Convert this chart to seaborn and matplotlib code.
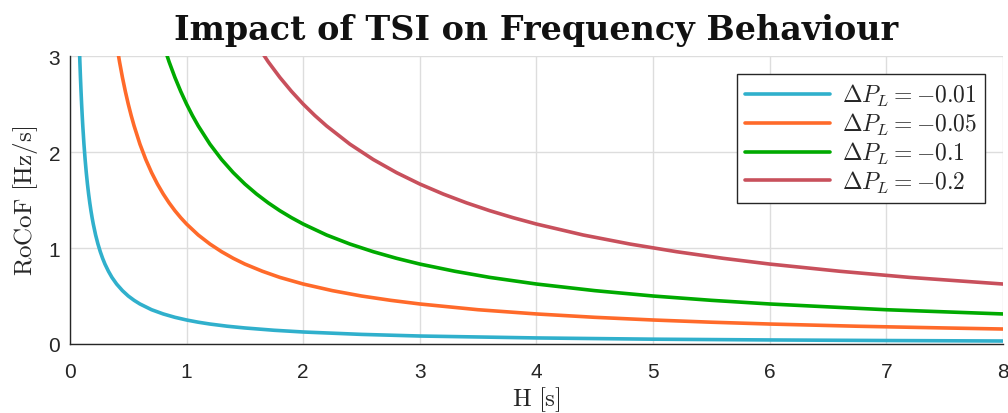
import numpy as np
import pandas as pd
import matplotlib
matplotlib.use("Agg")
import matplotlib.pyplot as plt
import seaborn as sns

# Data
labels = [r"$\Delta P_L = -0.01$", r"$\Delta P_L = -0.05$",
          r"$\Delta P_L = -0.1$", r"$\Delta P_L = -0.2$"]

h_blue = [0.08, 0.085, 0.09, 0.095, 0.1, 0.105, 0.11, 0.12, 0.13, 0.14, 0.15, 0.16, 0.17, 0.18, 0.19,
          0.2, 0.22, 0.24, 0.26, 0.28, 0.3, 0.33, 0.36, 0.4, 0.45, 0.5, 0.55, 0.6, 0.7, 0.8, 0.9,
          1.0, 1.1, 1.2, 1.35, 1.5, 1.75, 2.0, 2.5, 3.0, 4.0, 5.0, 6.0, 7.0, 8.0]
r_blue = [3.125, 2.941, 2.778, 2.632, 2.5, 2.381, 2.273, 2.083, 1.923, 1.786, 1.667, 1.563, 1.471, 1.389, 1.316,
          1.25, 1.136, 1.042, 0.962, 0.893, 0.833, 0.758, 0.694, 0.625, 0.556, 0.5, 0.455, 0.417, 0.357, 0.313, 0.278,
          0.25, 0.227, 0.208, 0.185, 0.167, 0.143, 0.125, 0.1, 0.083, 0.063, 0.05, 0.042, 0.036, 0.031]

h_orange = [0.4, 0.425, 0.45, 0.475, 0.5, 0.525, 0.55, 0.6, 0.65, 0.7, 0.75, 0.8, 0.85, 0.9, 0.95,
            1.0, 1.1, 1.2, 1.3, 1.4, 1.5, 1.65, 1.8, 2.0, 2.25, 2.5, 2.75, 3.0, 3.5, 4.0, 4.5,
            5.0, 5.5, 6.0, 6.75, 7.5, 8.0]
r_orange = [3.125, 2.941, 2.778, 2.632, 2.5, 2.381, 2.273, 2.083, 1.923, 1.786, 1.667, 1.563, 1.471, 1.389, 1.316,
            1.25, 1.136, 1.042, 0.962, 0.893, 0.833, 0.758, 0.694, 0.625, 0.556, 0.5, 0.455, 0.417, 0.357, 0.313, 0.278,
            0.25, 0.227, 0.208, 0.185, 0.167, 0.156]

h_green = [0.8, 0.85, 0.9, 0.95, 1.0, 1.05, 1.1, 1.2, 1.3, 1.4, 1.5, 1.6, 1.7, 1.8, 1.9,
           2.0, 2.2, 2.4, 2.6, 2.8, 3.0, 3.3, 3.6, 4.0, 4.5, 5.0, 5.5, 6.0, 7.0, 8.0]
r_green = [3.125, 2.941, 2.778, 2.632, 2.5, 2.381, 2.273, 2.083, 1.923, 1.786, 1.667, 1.563, 1.471, 1.389, 1.316,
           1.25, 1.136, 1.042, 0.962, 0.893, 0.833, 0.758, 0.694, 0.625, 0.556, 0.5, 0.455, 0.417, 0.357, 0.313]

h_red = [1.6, 1.7, 1.8, 1.9, 2.0, 2.1, 2.2, 2.4, 2.6, 2.8, 3.0, 3.2, 3.4, 3.6, 3.8,
         4.0, 4.4, 4.8, 5.2, 5.6, 6.0, 6.6, 7.2, 8.0]
r_red = [3.125, 2.941, 2.778, 2.632, 2.5, 2.381, 2.273, 2.083, 1.923, 1.786, 1.667, 1.563, 1.471, 1.389, 1.316,
         1.25, 1.136, 1.042, 0.962, 0.893, 0.833, 0.758, 0.694, 0.625]

colors = ["#30b0cc", "#ff6a2a", "#00aa00", "#c8505c"]

frames = []
for lab, h, r in zip(labels, [h_blue, h_orange, h_green, h_red], [r_blue, r_orange, r_green, r_red]):
    frames.append(pd.DataFrame({"H": h, "RoCoF": r, "case": lab}))
df = pd.concat(frames, ignore_index=True)

sns.set_theme(style="white")
plt.rcParams["font.family"] = ["Liberation Sans", "DejaVu Sans"]
plt.rcParams["mathtext.fontset"] = "cm"

fig = plt.figure(figsize=(10.08, 4.14), dpi=100)
ax = fig.add_axes([0.0694, 0.1667, 0.9256, 0.6953])

sns.lineplot(data=df, x="H", y="RoCoF", hue="case", palette=colors,
             hue_order=labels, linewidth=2.6, ax=ax, sort=True, estimator=None)

ax.set_xlim(0, 8)
ax.set_ylim(0, 3)
ax.set_xticks(range(0, 9))
ax.set_yticks([0, 1, 2, 3])
ax.grid(True, color="#dddddd", linewidth=1.0)
ax.set_axisbelow(True)
for s in ["top", "right"]:
    ax.spines[s].set_visible(False)
for s in ["left", "bottom"]:
    ax.spines[s].set_color("#262626")
    ax.spines[s].set_linewidth(1.0)
ax.tick_params(direction="in", length=5, width=1, color="#262626",
               labelsize=15, labelcolor="#262626", pad=7)
ax.tick_params(axis="x", pad=13)

ax.set_xlabel(r"$\mathrm{H\ [s]}$", fontsize=18, color="#262626", labelpad=2)
ax.set_ylabel(r"$\mathrm{RoCoF\ [Hz/s]}$", fontsize=18, color="#262626", labelpad=6)
ax.set_title("Impact of TSI on Frequency Behaviour", fontsize=24, pad=12,
             family="DejaVu Serif", fontweight="bold", color="#111111")

leg = ax.legend(loc="upper right", fontsize=17, frameon=True, fancybox=False,
                edgecolor="#262626", framealpha=1, borderaxespad=0.75,
                handlelength=3.6, labelspacing=0.12, borderpad=0.35, handletextpad=0.5)
leg.get_frame().set_linewidth(1.0)

fig.savefig("out.png", dpi=100)
